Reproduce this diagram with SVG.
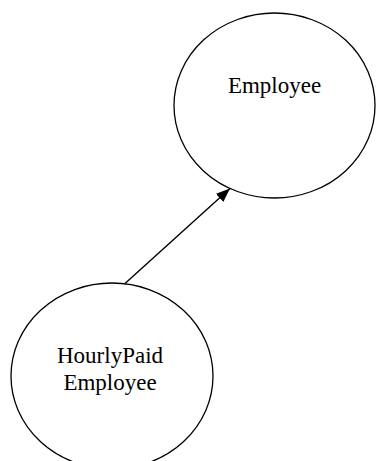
<svg xmlns="http://www.w3.org/2000/svg" width="376" height="461" viewBox="0 0 376 461">
<style>
.node ellipse{fill:#fff;stroke:#000;stroke-width:1.3}
.node text{font-family:"Liberation Serif","Times New Roman",serif;font-size:23px;fill:#000;text-anchor:middle}
.edge{stroke:#000;stroke-width:1.4;fill:none}
</style>
<defs>
<marker id="arr" markerWidth="14" markerHeight="11" refX="14" refY="5.5" orient="auto" markerUnits="userSpaceOnUse" viewBox="0 0 14 11">
<path d="M0,0 L14,5.5 L0,11 z" fill="#000"/>
</marker>
</defs>
<rect width="376" height="461" fill="#fff"/>
<g id="employee" class="node">
<ellipse cx="274.5" cy="105.5" rx="100.5" ry="92.5"/>
<text x="274.5" y="93">Employee</text>
</g>
<g id="hourlypaid" class="node">
<ellipse cx="112" cy="376" rx="101" ry="93"/>
<text x="110" y="363">HourlyPaid</text>
<text x="110" y="390">Employee</text>
</g>
<g id="connectors">
<line class="edge" x1="125" y1="283.5" x2="230" y2="188.5" marker-end="url(#arr)"/>
</g>
</svg>
